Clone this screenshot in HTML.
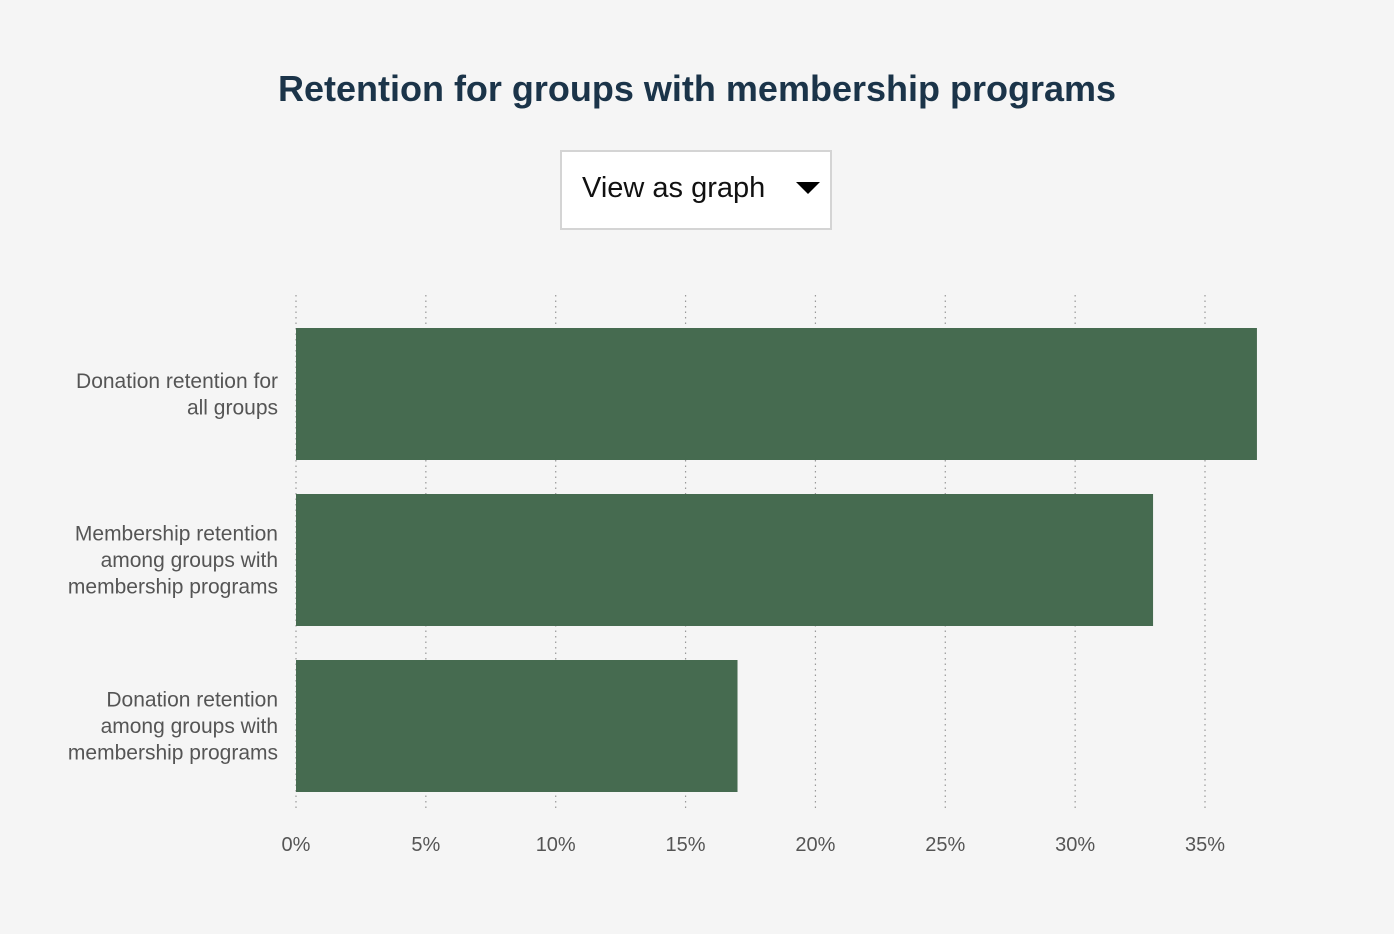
<!DOCTYPE html>
<html><head><meta charset="utf-8"><style>
body{margin:0;width:1394px;height:934px;background:#f5f5f5;font-family:"Liberation Sans",sans-serif;overflow:hidden;position:relative}
#title{position:absolute;left:0;width:1394px;top:68px;text-align:center;font-size:36px;font-weight:bold;color:#1b3449;margin:0}
#dd{position:absolute;left:560px;top:150px;width:272px;height:80px;background:#fff;border:2px solid #d4d4d4;box-sizing:border-box;font-size:29px;color:#111}
#dd span{position:absolute;left:20px;top:20px}
#dd svg{position:absolute;left:234px;top:30px}
svg text{font-family:"Liberation Sans",sans-serif}
</style></head><body>
<h1 id="title">Retention for groups with membership programs</h1>
<div id="dd"><span>View as graph</span><svg width="26" height="14"><polygon points="0,0 24,0 12,12" fill="#000"/></svg></div>
<svg id="chart" width="1394" height="934" style="position:absolute;left:0;top:0"></svg>
<script>
const categories=[["Donation retention for","all groups"],["Membership retention","among groups with","membership programs"],["Donation retention","among groups with","membership programs"]];
const values=[37,33,17];
const ticks=[0,5,10,15,20,25,30,35];
const tickLabels=["0%","5%","10%","15%","20%","25%","30%","35%"];
const NS="http://www.w3.org/2000/svg";
const svg=document.getElementById('chart');
const x0=296,pxPer=(1205-296)/35;
const xs=v=>x0+v*pxPer;
const bandTop=328,bandStep=166,barH=132;
function mk(t,a){const e=document.createElementNS(NS,t);for(const k in a)e.setAttribute(k,a[k]);svg.appendChild(e);return e;}
ticks.forEach((t,i)=>{
 const g=mk('line',{x1:xs(t),x2:xs(t),y1:295,y2:808,stroke:'#999','stroke-width':1.2,'stroke-dasharray':'1.5,4'});
 
 
 const l=mk('text',{x:xs(t),y:851,'text-anchor':'middle','font-size':20,fill:'#555'});
 l.textContent=tickLabels[i];
 
 
});
values.forEach((v,i)=>{
 const y=bandTop+i*bandStep;
 const r=mk('rect',{x:x0,y:y,width:xs(v)-x0,height:barH,fill:'#466b50'});
 
 
 const lines=categories[i];
 const lh=26.5,cy=y+barH/2;
 const t=mk('text',{x:278,'text-anchor':'end','font-size':21,fill:'#555'});
 
 
 lines.forEach((s,j)=>{const ts=document.createElementNS(NS,'tspan');ts.setAttribute('x',278);ts.setAttribute('y',cy-(lines.length-1)*lh/2+j*lh+7);ts.textContent=s;t.appendChild(ts);});
});
</script>
</body></html>
